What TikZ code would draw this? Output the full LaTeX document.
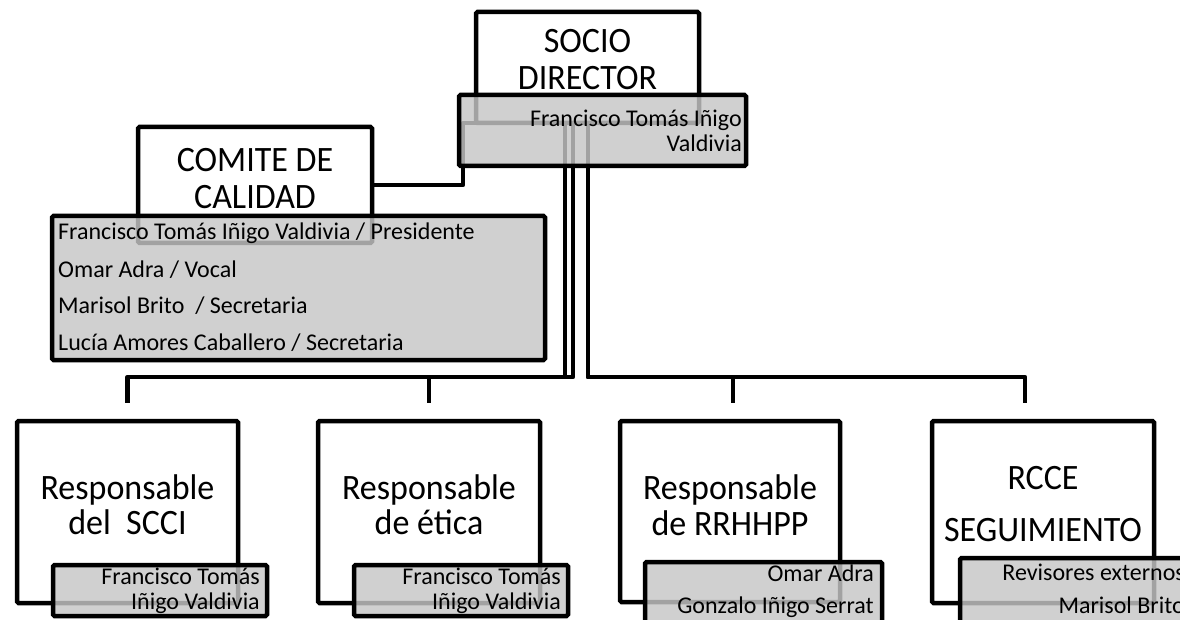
\documentclass[tikz,border=0pt]{standalone}
\usepackage{fontspec}
\setmainfont{Carlito}
\usetikzlibrary{calc}
\definecolor{boxgray}{RGB}{198,198,198}
\tikzset{
  wbox/.style={draw=black, line width=4.5pt, fill=white, rounded corners=1.5pt, inner sep=0pt, outer sep=0pt},
  gbox/.style={draw=black, line width=4.5pt, fill=boxgray, fill opacity=0.82, draw opacity=1, rounded corners=1.5pt, inner sep=0pt, outer sep=0pt},
  conn/.style={draw=black, line width=4.5pt, line join=round},
  big/.style={font=\fontsize{34}{40}\selectfont, inner sep=0pt, anchor=base},
  small/.style={font=\fontsize{24}{28}\selectfont, inner sep=0pt},
  sright/.style={small, anchor=base east},
  sleft/.style={small, anchor=base west},
}
\begin{document}
\begin{tikzpicture}[x=1pt,y=-1pt]
\useasboundingbox (0,0) rectangle (1180,620);
\clip (0,0) rectangle (1180,620);
\fill[white] (0,0) rectangle (1180,620);

% white boxes
\node[wbox, minimum width=223pt, minimum height=111pt] (socio) at (587.5,67.5) {};
\node[wbox, minimum width=234pt, minimum height=116pt] (comite) at (255,185) {};
\node[wbox, minimum width=221pt, minimum height=182pt] (scci) at (127.5,512) {};
\node[wbox, minimum width=222pt, minimum height=182pt] (etica) at (429,512) {};
\node[wbox, minimum width=220pt, minimum height=181pt] (rrhh) at (730,511.5) {};
\node[wbox, minimum width=222pt, minimum height=182pt] (rcce) at (1043,512) {};

% box titles
\node[big] (tsocio1) at (587.5,53) {\scalebox{1}[1.05]{SOCIO}};
\node[big] (tsocio2) at (587.5,90) {\scalebox{1}[1.05]{DIRECTOR}};
\node[big] (tcom1) at (255,172) {\scalebox{1}[1.05]{COMITE DE}};
\node[big] (tcom2) at (255,209) {\scalebox{1}[1.05]{CALIDAD}};
\node[big] (tscci1) at (127.5,499) {\scalebox{1}[1.05]{Responsable}};
\node[big] (tscci2) at (127.5,534) {\scalebox{1}[1.05]{del\ \ SCCI}};
\node[big] (teti1) at (429,499) {\scalebox{1}[1.05]{Responsable}};
\node[big] (teti2) at (429,534) {\scalebox{1}[1.05]{de ética}};
\node[big] (trr1) at (730,499) {\scalebox{1}[1.05]{Responsable}};
\node[big] (trr2) at (730,535) {\scalebox{1}[1.05]{de RRHHPP}};
\node[big] (trc1) at (1043,489) {\scalebox{1}[1.05]{RCCE}};
\node[big] (trc2) at (1043,541) {\scalebox{1}[1.05]{SEGUIMIENTO}};

% connectors
\coordinate (j1) at (463,123);
\draw[conn] (comite.east) -| (j1) -- (socio.south west);
\coordinate (s1) at ($(scci.north)+(0,-18)$);
\coordinate (s2) at ($(etica.north)+(0,-18)$);
\coordinate (s3) at (733,403);
\coordinate (s4) at (1025,403);
\draw[conn] ($(socio.south)+(-22.5,0)$) -- ++(0,254) -| (s1);
\draw[conn] ($(socio.south)+(-14.5,0)$) -- ++(0,254) -| (s2);
\draw[conn] ($(socio.south)+(0.5,0)$) -- ++(0,254) -| (s3);
\draw[conn] ($(socio.south)+(0.5,0)$) -- ++(0,254) -| (s4);

% gray boxes
\node[gbox, minimum width=287pt, minimum height=71pt] (gsocio) at (602.5,130.5) {};
\node[gbox, minimum width=493pt, minimum height=144pt] (gcom) at (298.5,288) {};
\node[gbox, minimum width=214pt, minimum height=51pt] (gscci) at (160,590.5) {};
\node[gbox, minimum width=214pt, minimum height=51pt] (geti) at (461,590.5) {};
\node[gbox, minimum width=237pt, minimum height=79pt] (grr) at (763.5,601.5) {};
\node[gbox, minimum width=235pt, minimum height=82pt] (grc) at (1077.5,599) {};

% gray box texts
\node[sright] (gs1) at (742,127) {Francisco Tomás Iñigo};
\node[sright] (gs2) at (742,152) {Valdivia};
\node[sleft] (gc1) at (58,240) {Francisco Tomás Iñigo Valdivia / Presidente};
\node[sleft] (gc2) at (58,277) {Omar Adra / Vocal};
\node[sleft] (gc3) at (58,313) {Marisol Brito\ \ / Secretaria};
\node[sleft] (gc4) at (58,350) {Lucía Amores Caballero / Secretaria};
\node[sright] (gsc1) at (260,584) {Francisco Tomás};
\node[sright] (gsc2) at (260,609) {Iñigo Valdivia};
\node[sright] (ge1) at (561,584) {Francisco Tomás};
\node[sright] (ge2) at (561,609) {Iñigo Valdivia};
\node[sright] (gr1) at (874,581) {Omar Adra};
\node[sright] (gr2) at (874,613) {Gonzalo Iñigo Serrat};
\node[sright] (grc1) at (1185,580) {Revisores externos};
\node[sright] (grc2) at (1185,613) {Marisol Brito};
\end{tikzpicture}
\end{document}
